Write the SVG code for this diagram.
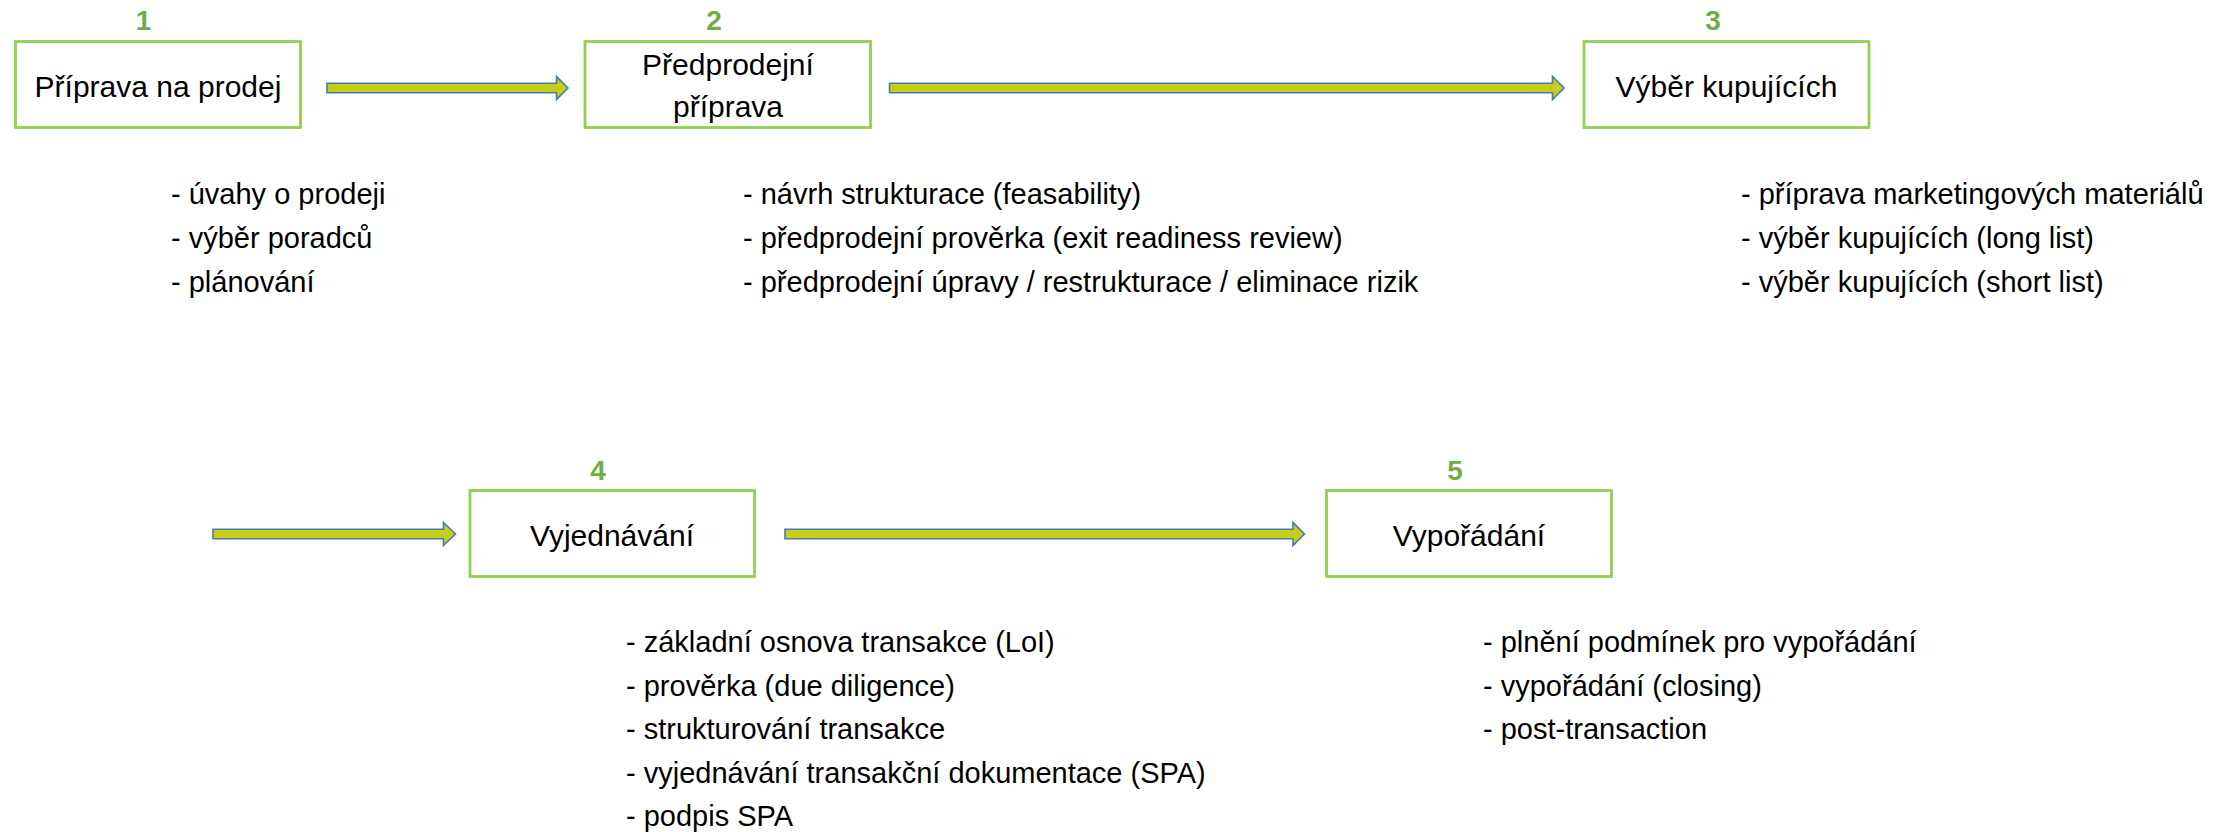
<svg xmlns="http://www.w3.org/2000/svg" width="2239" height="832" viewBox="0 0 2239 832">
<style>
.box{fill:#FFFFFF;stroke:#92D050;stroke-width:2.8}
.num{font-family:"Liberation Sans",Arial,sans-serif;font-weight:bold;font-size:28px;fill:#70AD47;text-anchor:middle}
.lbl{font-family:"Liberation Sans",Arial,sans-serif;font-size:30px;fill:#000000;text-anchor:middle}
.item{font-family:"Liberation Sans",Arial,sans-serif;font-size:29px;fill:#000000}
.arr{fill:#C6CE16;stroke:#4A78B4;stroke-width:1.6;stroke-linejoin:miter}
</style>
<rect width="2239" height="832" fill="#FFFFFF"/>
<g id="connectors">
<path class="arr" d="M327,83.3 H556.5 V76.5 L568,88 L556.5,99.5 V92.7 H327 Z"/>
<path class="arr" d="M889.5,83.3 H1552.5 V76.5 L1564,88 L1552.5,99.5 V92.7 H889.5 Z"/>
<path class="arr" d="M213,529.3 H443.5 V522.5 L455.5,534 L443.5,545.5 V538.7 H213 Z"/>
<path class="arr" d="M785,529.3 H1293 V522.5 L1304.5,534 L1293,545.5 V538.7 H785 Z"/>
</g>
<g id="node1">
<text class="num" x="143.5" y="30">1</text>
<rect class="box" x="15.5" y="41.5" width="285" height="86"/>
<text class="lbl" x="158" y="97">Příprava na prodej</text>
<text class="item" x="171" y="204">- úvahy o prodeji</text>
<text class="item" x="171" y="248">- výběr poradců</text>
<text class="item" x="171" y="292">- plánování</text>
</g>
<g id="node2">
<text class="num" x="714" y="30">2</text>
<rect class="box" x="585" y="41.5" width="285.5" height="86"/>
<text class="lbl" x="728" y="75">Předprodejní</text>
<text class="lbl" x="728" y="117">příprava</text>
<text class="item" x="743" y="204">- návrh strukturace (feasability)</text>
<text class="item" x="743" y="248">- předprodejní prověrka (exit readiness review)</text>
<text class="item" x="743" y="292">- předprodejní úpravy / restrukturace / eliminace rizik</text>
</g>
<g id="node3">
<text class="num" x="1713" y="30">3</text>
<rect class="box" x="1584" y="41.5" width="285" height="86"/>
<text class="lbl" x="1726.5" y="97">Výběr kupujících</text>
<text class="item" x="1741" y="204">- příprava marketingových materiálů</text>
<text class="item" x="1741" y="248">- výběr kupujících (long list)</text>
<text class="item" x="1741" y="292">- výběr kupujících (short list)</text>
</g>
<g id="node4">
<text class="num" x="598" y="480">4</text>
<rect class="box" x="470" y="490.5" width="284.5" height="86"/>
<text class="lbl" x="612" y="546">Vyjednávání</text>
<text class="item" x="626" y="652">- základní osnova transakce (LoI)</text>
<text class="item" x="626" y="695.5">- prověrka (due diligence)</text>
<text class="item" x="626" y="739">- strukturování transakce</text>
<text class="item" x="626" y="782.5">- vyjednávání transakční dokumentace (SPA)</text>
<text class="item" x="626" y="826">- podpis SPA</text>
</g>
<g id="node5">
<text class="num" x="1455" y="480">5</text>
<rect class="box" x="1326.5" y="490.5" width="285" height="86"/>
<text class="lbl" x="1469" y="546">Vypořádání</text>
<text class="item" x="1483" y="652">- plnění podmínek pro vypořádání</text>
<text class="item" x="1483" y="695.5">- vypořádání (closing)</text>
<text class="item" x="1483" y="739">- post-transaction</text>
</g>
</svg>
